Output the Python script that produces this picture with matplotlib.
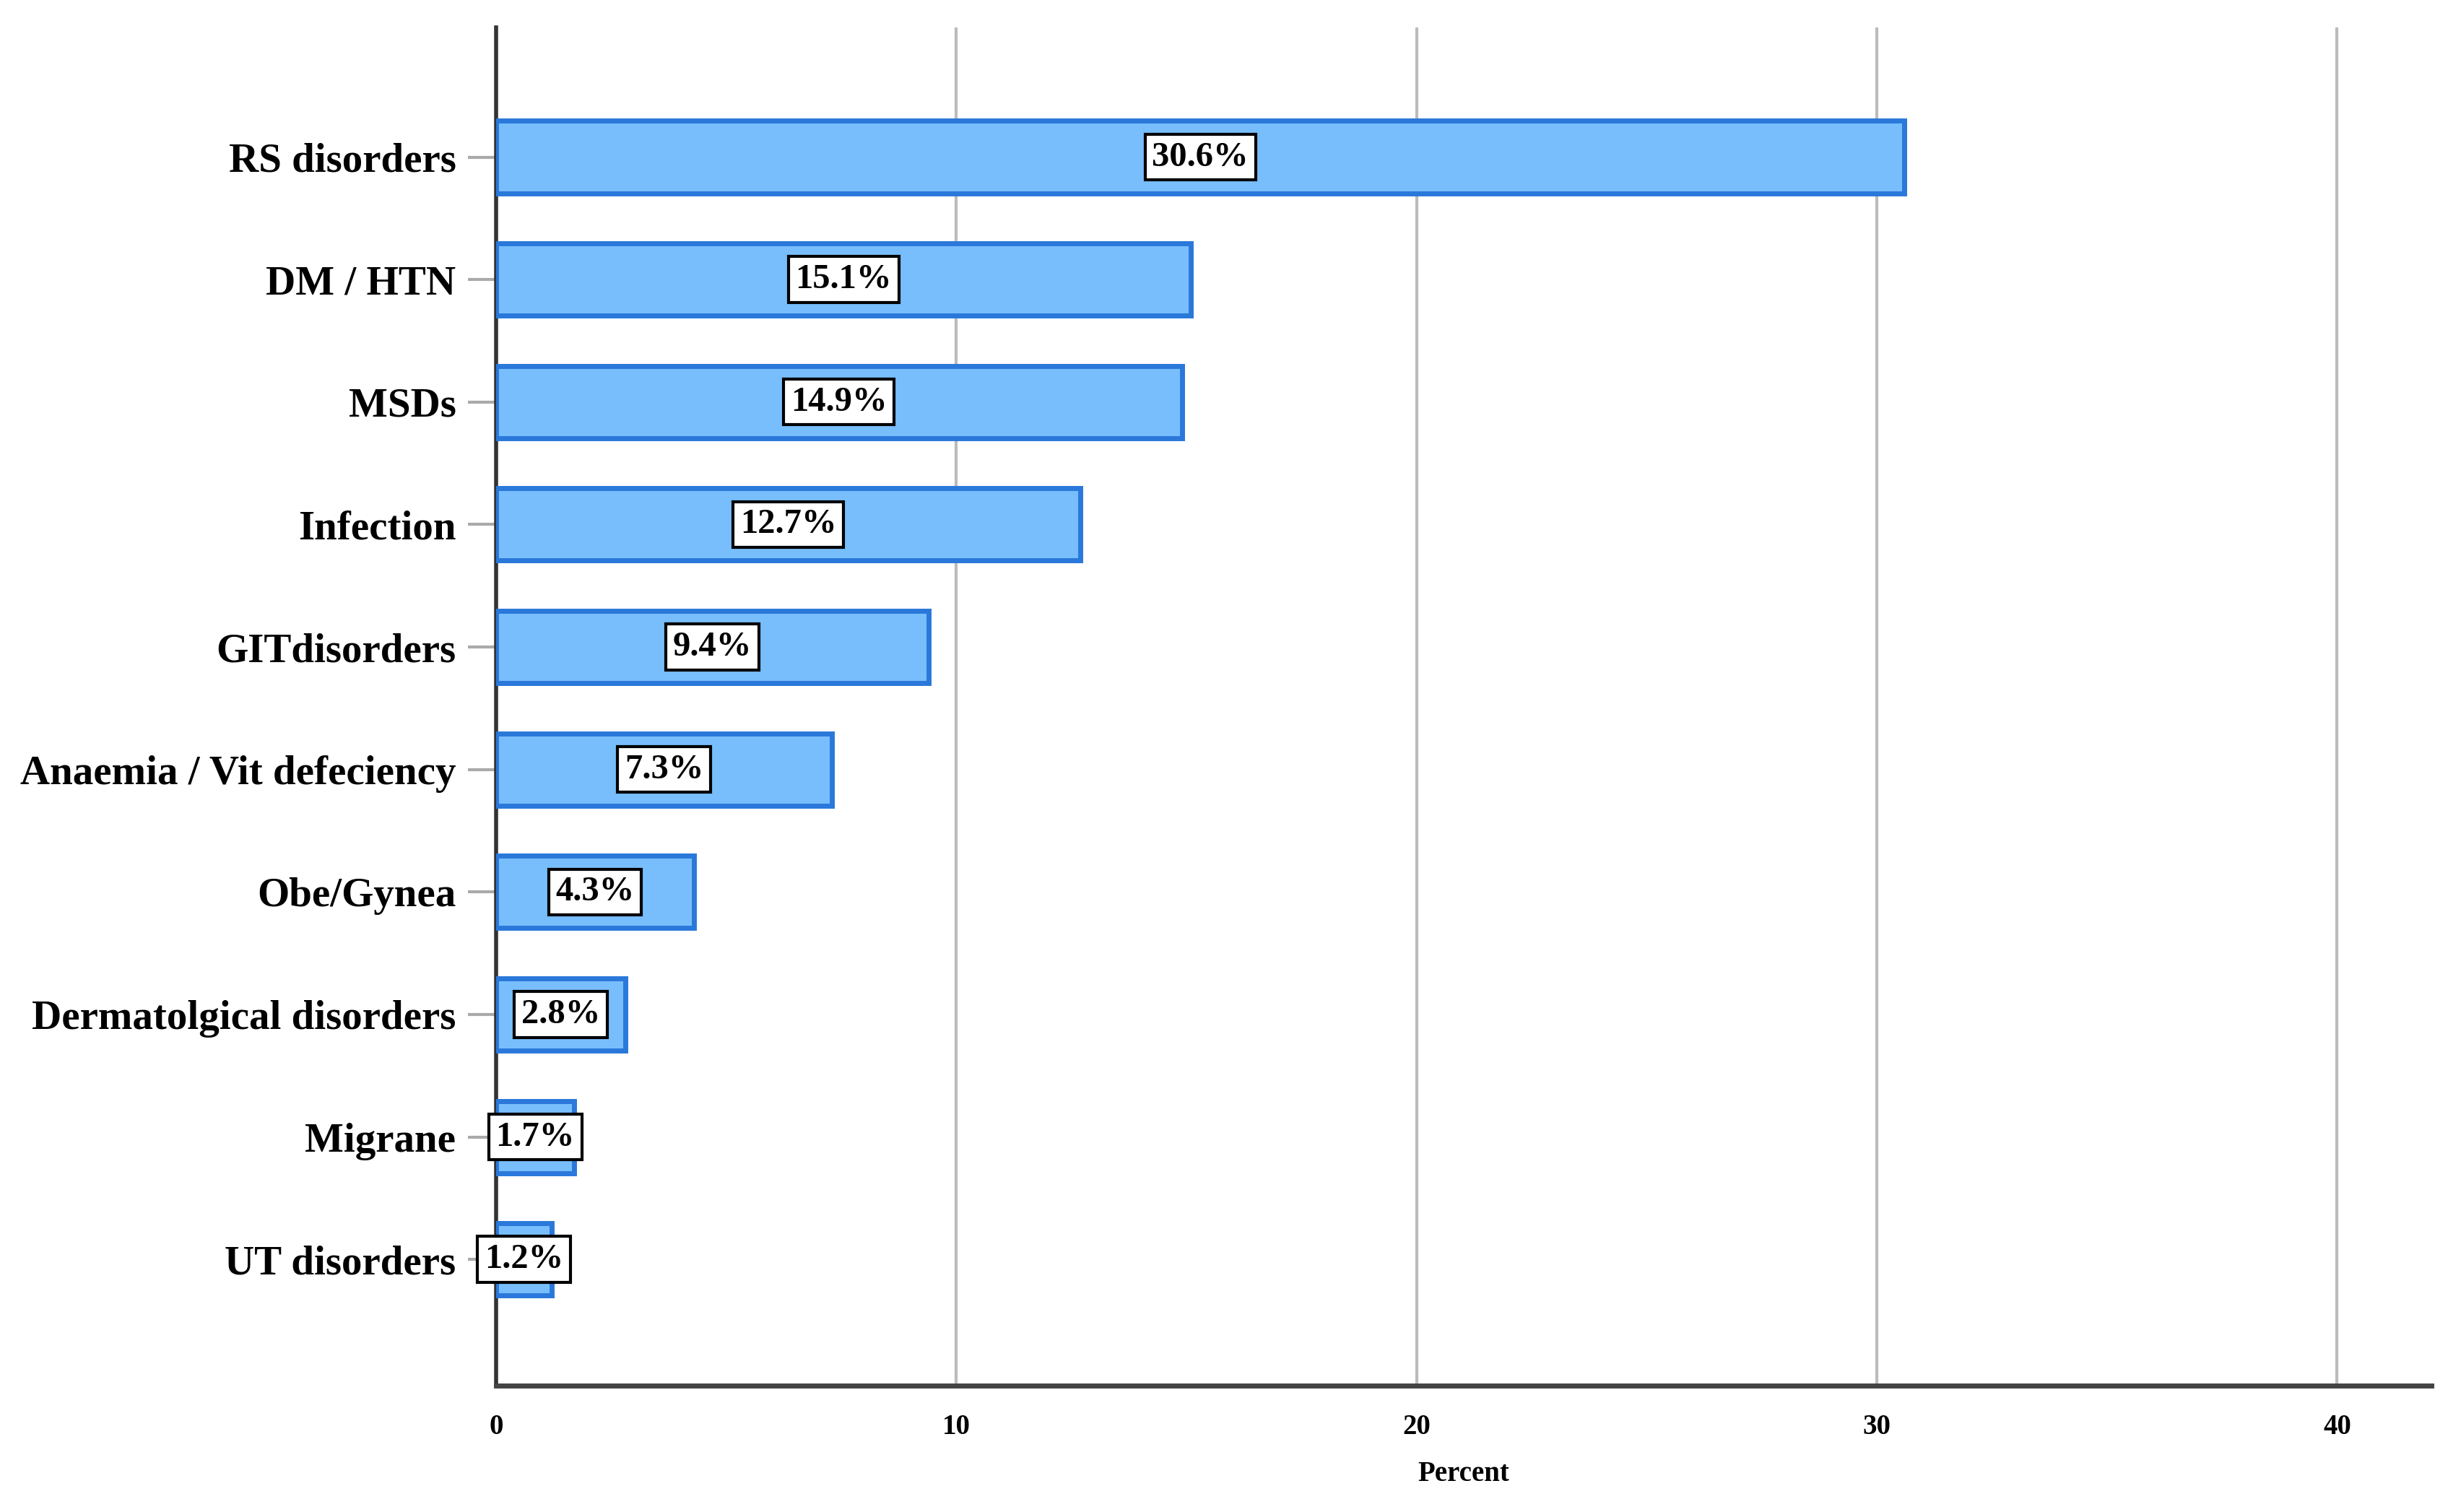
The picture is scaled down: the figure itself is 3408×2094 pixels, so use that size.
import matplotlib
matplotlib.use('Agg')
import matplotlib.pyplot as plt

# 数据
categories = ['RS disorders', 'DM / HTN', 'MSDs', 'Infection', 'GITdisorders',
              'Anaemia / Vit defeciency', 'Obe/Gynea', 'Dermatolgical disorders',
              'Migrane', 'UT disorders']
percents = [30.6, 15.1, 14.9, 12.7, 9.4, 7.3, 4.3, 2.8, 1.7, 1.2]
xticks = [0, 10, 20, 30, 40]

plt.rcParams['font.family'] = ['Liberation Serif', 'DejaVu Serif']
plt.rcParams['font.weight'] = 'bold'

fig = plt.figure(figsize=(17.04, 10.47), dpi=200)
ax = fig.add_axes([0.2016, 0.0836, 0.7864, 0.8984])

ypos = list(range(len(categories)))
ax.barh(ypos, percents, height=0.59, color='#78BEFC', edgecolor='#2A78DA',
        linewidth=2.5, zorder=3)

# 数值标签
for y, v in zip(ypos, percents):
    ax.text(v / 2, y, f'{v}%', ha='center', va='center', fontsize=17.5,
            fontweight='bold', zorder=5,
            bbox=dict(boxstyle='square,pad=0.2', facecolor='white',
                      edgecolor='black', linewidth=1.5))

ax.set_xlim(0, 42.05)
ax.set_ylim(len(categories) - 1 + 1.03, -1.06)
ax.set_yticks(ypos)
ax.set_yticklabels(categories, fontsize=20.5, fontweight='bold')
ax.set_xticks(xticks)
ax.set_xticklabels([str(t) for t in xticks], fontsize=14, fontweight='bold')
ax.set_xlabel('Percent', fontsize=14, fontweight='bold', labelpad=10)

ax.grid(axis='x', color='#BBBBBB', linewidth=1.5, zorder=0)
ax.tick_params(axis='x', length=0, pad=14)
ax.tick_params(axis='y', length=14, width=1.5, color='#AAAAAA', pad=6)
for s in ['top', 'right']:
    ax.spines[s].set_visible(False)
ax.spines['left'].set_color('#333333')
ax.spines['left'].set_linewidth(2)
ax.spines['bottom'].set_color('#444444')
ax.spines['bottom'].set_linewidth(2.5)

fig.savefig('out.png', dpi=200)
